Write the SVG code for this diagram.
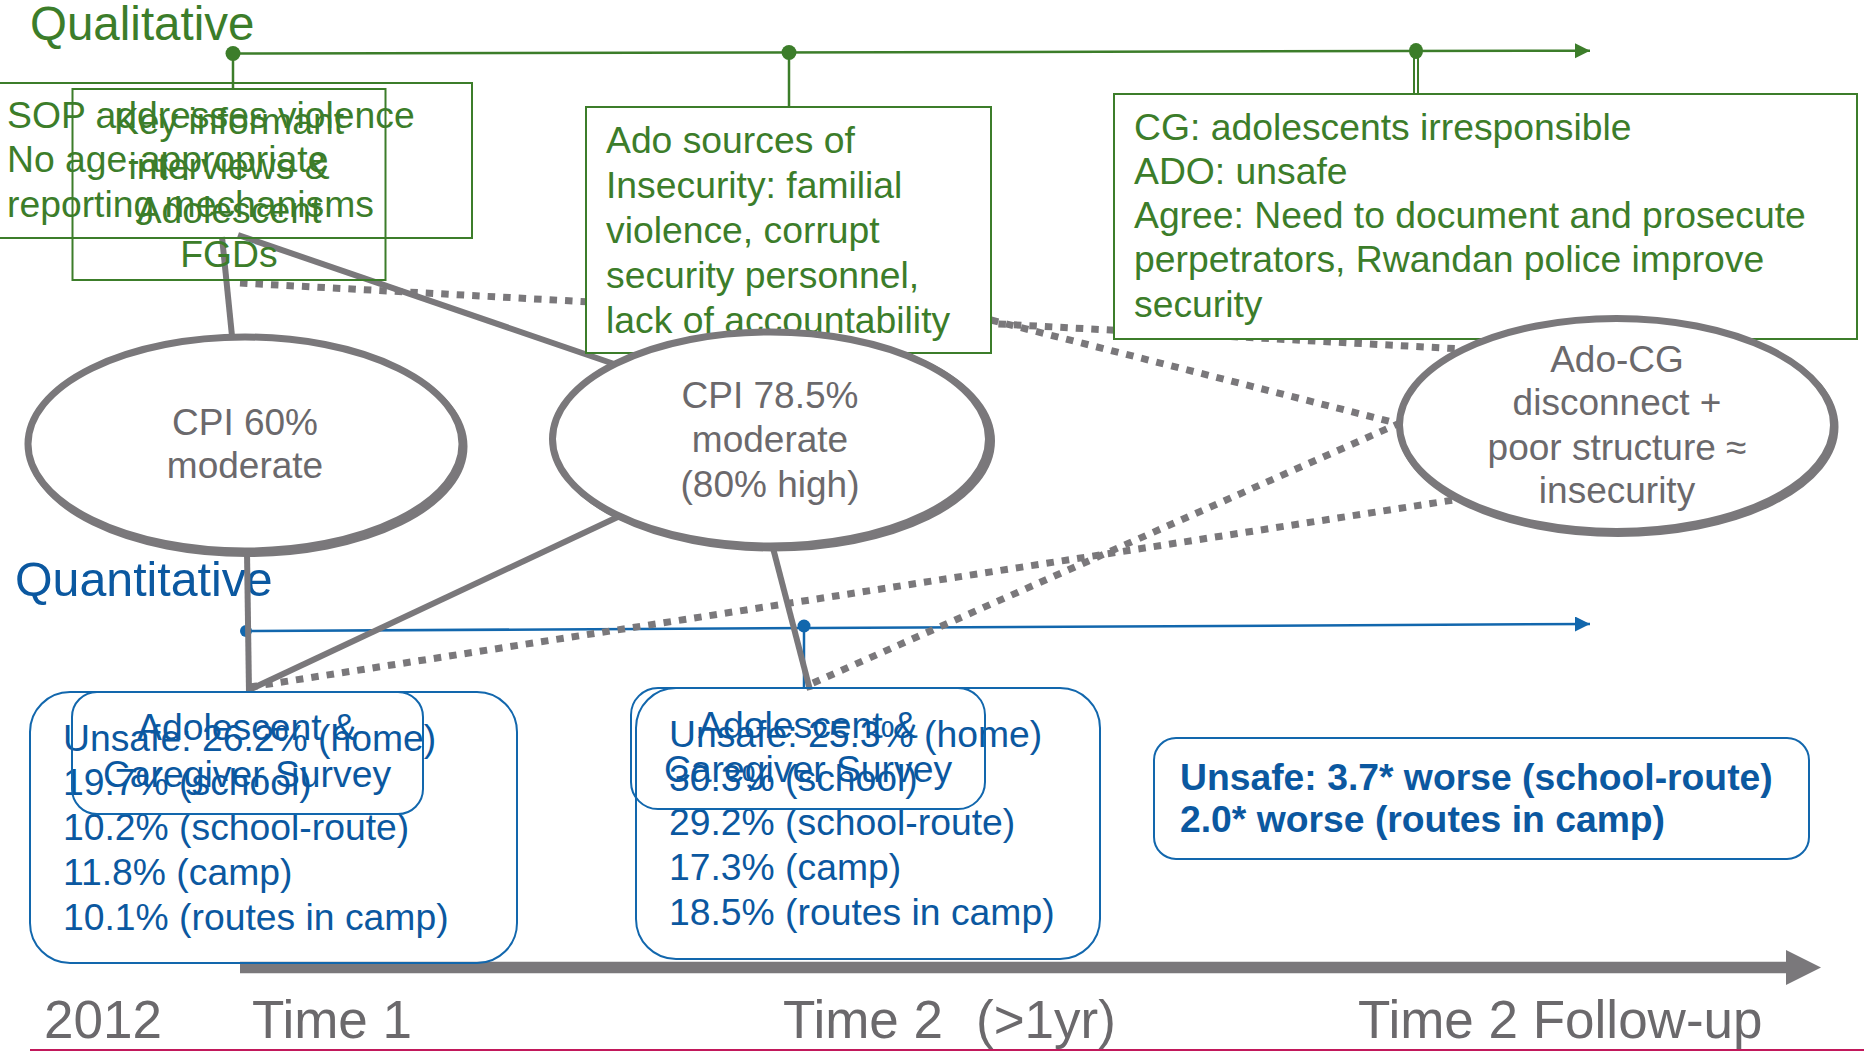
<svg xmlns="http://www.w3.org/2000/svg" width="1864" height="1052" viewBox="0 0 1864 1052">
<defs>
<style>
text{font-family:"Liberation Sans",Arial,Helvetica,sans-serif;}
.g{fill:#3C7D2A;font-size:37.3px;}
.gt{fill:#3C7D2A;font-size:47.5px;}
.bt{fill:#0B58A0;font-size:48.3px;}
.b{fill:#0B58A0;font-size:37.3px;}
.bb{fill:#0B58A0;font-size:37.3px;font-weight:bold;}
.e{fill:#6B696C;font-size:37px;text-anchor:middle;}
.t{fill:#6B696C;font-size:53px;}
.c{text-anchor:middle;}
.gbox{fill:#fff;stroke:#3C7D2A;stroke-width:2;}
.gbox0{fill:none;stroke:#3C7D2A;stroke-width:2;}
.bbox{fill:none;stroke:#1267AD;stroke-width:2;}
.ell{fill:#fff;stroke:#7A787B;stroke-width:7;}
.ellsh{fill:none;stroke:#7A787B;stroke-width:7;}
.solid{stroke:#7A787B;stroke-width:6;fill:none;}
.dot{stroke:#7A787B;stroke-width:7;fill:none;stroke-dasharray:7.5 8;}
</style>
<marker id="ag" markerWidth="16" markerHeight="16" refX="15" refY="7.5" orient="auto" markerUnits="userSpaceOnUse"><path d="M0,0 L15,7.5 L0,15 Z" fill="#3C7D2A"/></marker>
<marker id="ab" markerWidth="16" markerHeight="16" refX="15" refY="7.5" orient="auto" markerUnits="userSpaceOnUse"><path d="M0,0 L15,7.5 L0,15 Z" fill="#1267AD"/></marker>
</defs>
<rect width="1864" height="1052" fill="#fff"/>

<g id="timelines">
<text class="gt" x="30" y="40">Qualitative</text>
<line x1="233" y1="53.5" x2="1590" y2="50.7" stroke="#3C7D2A" stroke-width="2.5" marker-end="url(#ag)"/>
<line x1="233" y1="53" x2="233" y2="89" stroke="#3C7D2A" stroke-width="2.5"/>
<line x1="789" y1="53" x2="789" y2="107" stroke="#3C7D2A" stroke-width="2.5"/>
<line x1="1414" y1="51" x2="1414" y2="94" stroke="#3C7D2A" stroke-width="2"/>
<line x1="1418" y1="51" x2="1418" y2="94" stroke="#3C7D2A" stroke-width="2"/>
<circle cx="233" cy="53.5" r="7.5" fill="#3C7D2A"/>
<circle cx="789" cy="52.5" r="7.5" fill="#3C7D2A"/>
<ellipse cx="1416" cy="51" rx="7" ry="8" fill="#3C7D2A"/>
<text class="bt" x="15" y="596">Quantitative</text>
<line x1="246" y1="631" x2="1590" y2="624" stroke="#1267AD" stroke-width="2.5" marker-end="url(#ab)"/>
<line x1="804" y1="626" x2="804" y2="688" stroke="#1267AD" stroke-width="2.5"/>
<circle cx="246" cy="631" r="6" fill="#1267AD"/>
<circle cx="804" cy="626" r="6.5" fill="#1267AD"/>
</g>

<g id="connectors">
<line class="solid" x1="222" y1="237" x2="232" y2="336"/>
<line class="solid" x1="238" y1="235" x2="620" y2="366"/>
<line class="solid" x1="247" y1="552" x2="249" y2="693"/>
<line class="solid" x1="249" y1="690" x2="622" y2="515"/>
<line class="solid" x1="773" y1="548" x2="810" y2="690"/>
<line class="dot" x1="240" y1="283" x2="1462" y2="349"/>
<line class="dot" x1="991" y1="320" x2="1400" y2="424"/>
<line class="dot" x1="250" y1="687" x2="1460" y2="499"/>
<line class="dot" x1="813" y1="683" x2="1400" y2="423"/>
</g>

<g id="node-sop">
<rect class="gbox0" x="-2" y="83" width="474" height="155"/>
<text class="g" x="7" y="128">SOP addresses violence</text>
<text class="g" x="7" y="172">No age-appropriate</text>
<text class="g" x="7" y="217">reporting mechanisms</text>
</g>
<g id="node-kii">
<rect class="gbox0" x="72.5" y="89" width="313" height="191"/>
<text class="g c" x="229" y="134">Key informant</text>
<text class="g c" x="229" y="179">interviews &amp;</text>
<text class="g c" x="229" y="223">Adolescent</text>
<text class="g c" x="229" y="267">FGDs</text>
</g>
<g id="node-ado-sources">
<rect class="gbox" x="586" y="107" width="405" height="246"/>
<text class="g" x="606" y="153">Ado sources of</text>
<text class="g" x="606" y="198">Insecurity: familial</text>
<text class="g" x="606" y="243">violence, corrupt</text>
<text class="g" x="606" y="288">security personnel,</text>
<text class="g" x="606" y="333">lack of accountability</text>
</g>
<g id="node-cg">
<rect class="gbox" x="1114" y="94" width="743" height="245"/>
<text class="g" x="1134" y="140">CG: adolescents irresponsible</text>
<text class="g" x="1134" y="184">ADO: unsafe</text>
<text class="g" x="1134" y="228">Agree: Need to document and prosecute</text>
<text class="g" x="1134" y="272">perpetrators, Rwandan police improve</text>
<text class="g" x="1134" y="317">security</text>
</g>

<g id="node-cpi60">
<ellipse class="ellsh" cx="247" cy="446.5" rx="217" ry="107"/>
<ellipse class="ell" cx="245" cy="444" rx="217" ry="107"/>
<text class="e" x="245" y="435">CPI 60%</text>
<text class="e" x="245" y="478">moderate</text>
</g>
<g id="node-cpi785">
<ellipse class="ellsh" cx="773.5" cy="441" rx="218" ry="107"/>
<ellipse class="ell" cx="770.5" cy="439" rx="218" ry="107"/>
<text class="e" x="770" y="408">CPI 78.5%</text>
<text class="e" x="770" y="452">moderate</text>
<text class="e" x="770" y="497">(80% high)</text>
</g>
<g id="node-adocg">
<ellipse class="ellsh" cx="1618" cy="427" rx="217" ry="106.5"/>
<ellipse class="ell" cx="1616.5" cy="425" rx="217" ry="106.5"/>
<text class="e" x="1617" y="372">Ado-CG</text>
<text class="e" x="1617" y="415">disconnect +</text>
<text class="e" x="1617" y="460">poor structure ≈</text>
<text class="e" x="1617" y="503">insecurity</text>
</g>

<g id="timeline-bar">
<line x1="240" y1="967.5" x2="1788" y2="967.5" stroke="#7A787B" stroke-width="11.5"/>
<path d="M1786,950 L1821,967.5 L1786,985 Z" fill="#7A787B"/>
</g>

<g id="node-survey1">
<rect class="bbox" x="30" y="692" width="487" height="271" rx="40" ry="40"/>
<text class="b" x="63" y="751">Unsafe: 26.2% (home)</text>
<text class="b" x="63" y="795">19.7% (school)</text>
<text class="b" x="63" y="840">10.2% (school-route)</text>
<text class="b" x="63" y="885">11.8% (camp)</text>
<text class="b" x="63" y="930">10.1% (routes in camp)</text>
</g>
<g id="node-survey1-label">
<rect class="bbox" x="72" y="692" width="351" height="122" rx="25" ry="25"/>
<text class="b c" x="247" y="740">Adolescent &amp;</text>
<text class="b c" x="247" y="787">Caregiver Survey</text>
</g>
<g id="node-survey2">
<rect class="bbox" x="636" y="688" width="464" height="271" rx="40" ry="40"/>
<text class="b" x="669" y="747">Unsafe: 25.3% (home)</text>
<text class="b" x="669" y="791">30.3% (school)</text>
<text class="b" x="669" y="835">29.2% (school-route)</text>
<text class="b" x="669" y="880">17.3% (camp)</text>
<text class="b" x="669" y="925">18.5% (routes in camp)</text>
</g>
<g id="node-survey2-label">
<rect class="bbox" x="631" y="688" width="354" height="121" rx="27" ry="27"/>
<text class="b c" x="808" y="738">Adolescent &amp;</text>
<text class="b c" x="808" y="782">Caregiver Survey</text>
</g>
<g id="node-followup">
<rect class="bbox" x="1154" y="738" width="655" height="121" rx="22" ry="22"/>
<text class="bb" x="1180" y="790">Unsafe: 3.7* worse (school-route)</text>
<text class="bb" x="1180" y="832">2.0* worse (routes in camp)</text>
</g>

<g id="axis-labels">
<text class="t" x="44" y="1038">2012</text>
<text class="t" x="252" y="1038">Time 1</text>
<text class="t" x="783" y="1038">Time 2<tspan x="976">(&gt;1yr)</tspan></text>
<text class="t" x="1358" y="1038">Time 2 Follow-up</text>
<line x1="30" y1="1050" x2="1864" y2="1050" stroke="#C2185B" stroke-width="2"/>
</g>
</svg>
